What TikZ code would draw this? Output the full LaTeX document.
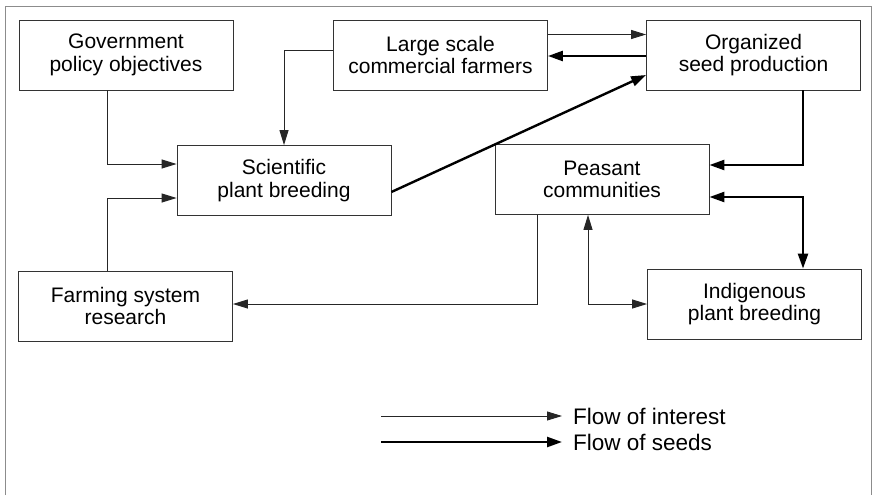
\documentclass[tikz,border=0pt]{standalone}
\usepackage{fontspec}
\setmainfont{Liberation Sans}
\usetikzlibrary{arrows.meta}
\begin{document}
\begin{tikzpicture}[x=1pt,y=-1pt,
  box/.style={draw=black!80, line width=0.8pt, minimum width=214pt,
    minimum height=70pt, align=center, inner sep=0pt,
    font=\fontsize{21}{22.5}\selectfont},
  thintip/.tip={Triangle[length=15pt,width=9pt]},
  thicktip/.tip={Triangle[length=15pt,width=10pt]},
  interest/.style={draw=black!85, line width=0.9pt, -thintip},
  interestboth/.style={draw=black!85, line width=0.9pt, thintip-thintip},
  seeds/.style={draw=black, line width=2.4pt, -thicktip},
  seedsboth/.style={draw=black, line width=2.4pt, thicktip-thicktip},
  frameline/.style={draw=black!45, line width=0.8pt},
  legendtext/.style={anchor=west, inner sep=0pt, font=\fontsize{22.5}{24}\selectfont}]
\useasboundingbox (0,0) rectangle (874,495);

% outer frame
\draw[frameline] (5,495) -- (5,6) -- (871,6) -- (871,495);

% boxes
\node[box] (gov)  at (126,55)    {Government\\policy objectives};
\node[box] (large) at (440.5,55) {Large scale\\commercial farmers};
\node[box] (org)  at (753.5,55)  {Organized\\seed production};
\node[box] (sci)  at (284,180.5) {Scientific\\plant breeding};
\node[box] (peas) at (602,179.5) {Peasant\\communities};
\node[box] (farm) at (125.5,306) {Farming system\\research};
\node[box] (ind)  at (754.5,304) {Indigenous\\plant breeding};

% flows of interest
\draw[interest] ([xshift=-19pt]gov.south) |- ([yshift=16.5pt]sci.west);
\draw[interest] ([xshift=-18.5pt]farm.north) |- ([yshift=-17.5pt]sci.west);
\draw[interest] ([yshift=5pt]large.west) -| (sci.north);
\draw[interest] ([yshift=20.5pt]large.east) -- ([yshift=20.5pt]org.west);
\draw[interest] ([xshift=-65pt]peas.south) |- ([yshift=2pt]farm.east);
\draw[interestboth] ([xshift=-14pt]peas.south) |- (ind.west);

% flows of seeds
\draw[seeds] ([yshift=-1pt]org.west) -- ([yshift=-1pt]large.east);
\draw[seeds] ([yshift=-11.5pt]sci.east) -- ([yshift=-20pt]org.west);
\draw[seeds] ([xshift=49.5pt]org.south) |- ([yshift=14.5pt]peas.east);
\draw[seedsboth] ([yshift=-17.5pt]peas.east) -| ([xshift=48.5pt]ind.north);

% legend
\coordinate (li0) at (381,416);
\coordinate (ls0) at (381,442);
\node[legendtext] (li) at (573,416) {Flow of interest};
\node[legendtext] (ls) at (573,442) {Flow of seeds};
\draw[interest] (li0) -- ([xshift=-11pt]li.west);
\draw[seeds] (ls0) -- ([xshift=-11pt]ls.west);
\end{tikzpicture}
\end{document}
